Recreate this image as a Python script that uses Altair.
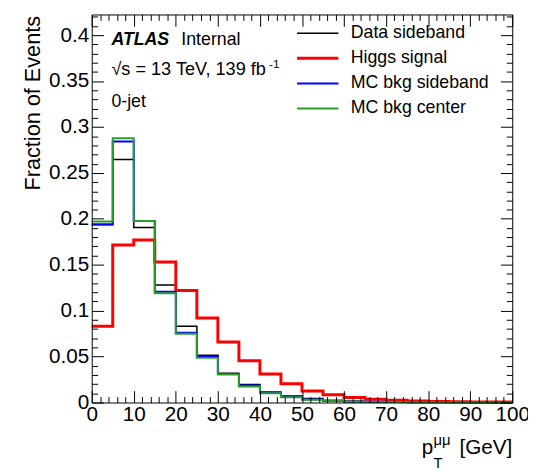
import altair as alt
import pandas as pd

# ---------------- data ----------------
bin_edges = [0, 5, 10, 15, 20, 25, 30, 35, 40, 45, 50, 55, 60, 65, 70, 75, 80, 85, 90, 95, 100]

data_sideband = [0.1935, 0.2646, 0.1905, 0.1280, 0.0830, 0.0515, 0.0318, 0.0197, 0.0115, 0.0072,
                 0.0044, 0.0022, 0.0013, 0.0009, 0.0006, 0.0004, 0.0003, 0.0002, 0.0002, 0.0001]
higgs_signal = [0.0830, 0.1716, 0.1770, 0.1530, 0.1220, 0.0920, 0.0658, 0.0454, 0.0310, 0.0204,
                0.0125, 0.0085, 0.0055, 0.0035, 0.0025, 0.0016, 0.0012, 0.0009, 0.0007, 0.0005]
mc_bkg_sideband = [0.1940, 0.2842, 0.1976, 0.1205, 0.0760, 0.0504, 0.0310, 0.0185, 0.0105, 0.0062,
                   0.0034, 0.0020, 0.0012, 0.0008, 0.0005, 0.0004, 0.0003, 0.0002, 0.0001, 0.0001]
mc_bkg_center = [0.1970, 0.2877, 0.1976, 0.1190, 0.0748, 0.0486, 0.0304, 0.0175, 0.0100, 0.0057,
                 0.0031, 0.0018, 0.0011, 0.0007, 0.0005, 0.0003, 0.0002, 0.0002, 0.0001, 0.0001]

series_names = ["Data sideband", "Higgs signal", "MC bkg sideband", "MC bkg center"]
series_values = [data_sideband, higgs_signal, mc_bkg_sideband, mc_bkg_center]
series_colors = ["#000000", "#ff0000", "#0000ff", "#2a9d2a"]
series_widths = [1.5, 3.0, 2.0, 2.0]

x_tick_labels = [0, 10, 20, 30, 40, 50, 60, 70, 80, 90, 100]
y_tick_labels = [0, 0.05, 0.1, 0.15, 0.2, 0.25, 0.3, 0.35, 0.4]
x_minor_ticks = list(range(0, 101, 2))
y_minor_ticks = [round(i * 0.01, 2) for i in range(43)]

atlas_text = "ATLAS"
internal_text = "Internal"
energy_text = "\u221as = 13 TeV, 139 fb"
energy_sup = "-1"
jet_text = "0-jet"
y_title = "Fraction of Events"

# ---------------- table ----------------
rows = []
for name, vals in zip(series_names, series_values):
    for i, e in enumerate(bin_edges):
        v = vals[min(i, len(vals) - 1)]
        rows.append({"pt": e, "frac": v, "series": name})
df = pd.DataFrame(rows)

W, H = 427, 394
FONT = "Liberation Sans"
xs = alt.Scale(domain=[0, 100], nice=False, zero=False)
ys = alt.Scale(domain=[0, 0.4225], nice=False)

legend = alt.Legend(
    title=None, orient="none", legendX=207, legendY=10, symbolType="stroke",
    symbolSize=1764, labelFontSize=18, labelFont=FONT, labelColor="black",
    labelOffset=11, rowPadding=7.5, clipHeight=18, labelLimit=0, padding=0,
)

lines = alt.Chart(df).mark_line(interpolate="step-after").encode(
    x=alt.X("pt:Q", scale=xs, axis=alt.Axis(
        values=x_tick_labels, ticks=False, labelFontSize=21, labelFont=FONT,
        labelPadding=1, labelColor="black", domainColor="black", domainWidth=1,
        grid=False, title="", labelFlush=False, labelOverlap=False, zindex=1)),
    y=alt.Y("frac:Q", scale=ys, axis=alt.Axis(
        values=y_tick_labels, format="~g", ticks=False, labelFontSize=21, labelFont=FONT,
        labelPadding=3, labelColor="black", domainColor="black", domainWidth=1,
        grid=False, labelOverlap=False, labelFlush=False, zindex=1,
        title=y_title, titleFont=FONT, titleFontSize=22, titleFontWeight="normal",
        titleColor="black", titleAngle=270, titleAlign="right",
        titleBaseline="alphabetic", titleX=-53, titleY=1)),
    color=alt.Color("series:N", scale=alt.Scale(domain=series_names, range=series_colors),
                    legend=legend),
    strokeWidth=alt.StrokeWidth("series:N",
                                scale=alt.Scale(type="ordinal", domain=series_names,
                                                range=series_widths),
                                legend=legend),
)

x_tick_size = {"condition": {"test": "datum.value % 10 === 0", "value": 12}, "value": 6}
y_tick_size = {"condition": {"test": "abs(round(datum.value * 100)) % 5 === 0", "value": 12},
               "value": 6}


def tick_layer(x_orient, y_orient, show_domain):
    return alt.Chart(df).mark_point(opacity=0).encode(
        x=alt.X("pt:Q", scale=xs, axis=alt.Axis(
            orient=x_orient, offset=-H, values=x_minor_ticks, labels=False,
            tickSize=x_tick_size, tickColor="black", tickWidth=1,
            domain=show_domain, domainColor="black", domainWidth=1,
            grid=False, title="", zindex=1)),
        y=alt.Y("frac:Q", scale=ys, axis=alt.Axis(
            orient=y_orient, offset=-W, values=y_minor_ticks, labels=False,
            tickSize=y_tick_size, tickColor="black", tickWidth=1,
            domain=show_domain, domainColor="black", domainWidth=1,
            grid=False, title="", zindex=1)),
    )


ticks_in_low = tick_layer("top", "right", False)   # ticks at bottom & left edges
ticks_in_high = tick_layer("bottom", "left", True)  # ticks + frame at top & right edges


def label(text, x, y, size, align="left", weight="normal", style="normal"):
    return alt.Chart(pd.DataFrame({"t": [text]})).mark_text(
        align=align, baseline="alphabetic", font=FONT, fontSize=size,
        fontWeight=weight, fontStyle=style, color="black",
    ).encode(x=alt.value(x), y=alt.value(y), text="t:N")


texts = [
    label(atlas_text, 20, 31.3, 18, weight="bold", style="italic"),
    label(internal_text, 91, 31.3, 18),
    label(energy_text, 20, 61.5, 18.4),
    label(energy_sup, 180, 54, 12),
    label(jet_text, 20, 94, 18),
    label("p", 335, 446, 21),
    label("\u03bc\u03bc", 347, 437, 15),
    label("T", 347, 461, 15),
    label("[GeV]", 427, 446, 21, align="right"),
]

chart = alt.layer(lines, ticks_in_low, ticks_in_high, *texts).resolve_axis(
    x="independent", y="independent"
).properties(
    width=W, height=H,
    autosize=alt.AutoSizeParams(type="none"),
    padding={"left": 85, "top": 3, "right": 16, "bottom": 68},
    background="white",
).configure_view(stroke=None)

chart.save("out.html", embed_options={"renderer": "svg", "actions": False})
